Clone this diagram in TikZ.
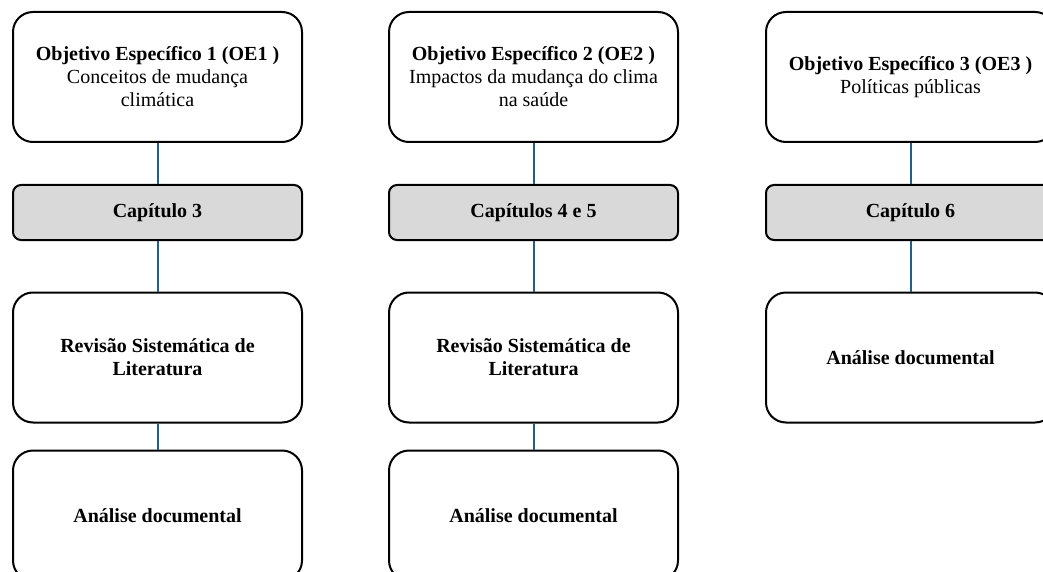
\documentclass[tikz,border=0pt]{standalone}
\usepackage{fontspec}
\setmainfont{Liberation Serif}
\definecolor{linkc}{HTML}{1F5F8B}
\definecolor{chapfill}{HTML}{D9D9D9}
\tikzset{
  x=1pt,y=-1pt,
  bigbox/.style={draw=black,line width=2pt,rounded corners=20pt,fill=white,
    minimum width=289pt,minimum height=130pt,align=center,inner sep=4pt,
    font=\fontsize{20pt}{23pt}\selectfont},
  chapbox/.style={draw=black,line width=2pt,rounded corners=8pt,fill=chapfill,
    minimum width=289pt,minimum height=55pt,align=center,
    font=\fontsize{20pt}{23pt}\selectfont\bfseries},
  link/.style={draw=linkc,line width=2pt}
}
\begin{document}
\begin{tikzpicture}
\useasboundingbox (0,0) rectangle (1043,572);
\clip (0,0) rectangle (1043,572);
% column 1
\node[bigbox] (o1) at (157.5,77) {\textbf{Objetivo Específico 1 (OE1 )}\\Conceitos de mudança\\climática};
\node[chapbox] (c1) at (157.5,212.5) {Capítulo 3};
\node[bigbox] (r1) at (157.5,357.5) {\textbf{Revisão Sistemática de}\\\textbf{Literatura}};
\node[bigbox] (a1) at (157.5,515.5) {\textbf{Análise documental}};
% column 2
\node[bigbox] (o2) at (533.5,77) {\textbf{Objetivo Específico 2 (OE2 )}\\Impactos da mudança do clima\\na saúde};
\node[chapbox] (c2) at (533.5,212.5) {Capítulos 4 e 5};
\node[bigbox] (r2) at (533.5,357.5) {\textbf{Revisão Sistemática de}\\\textbf{Literatura}};
\node[bigbox] (a2) at (533.5,515.5) {\textbf{Análise documental}};
% column 3
\node[bigbox] (o3) at (910.5,77) {\textbf{Objetivo Específico 3 (OE3 )}\\Políticas públicas};
\node[chapbox] (c3) at (910.5,212.5) {Capítulo 6};
\node[bigbox] (a3) at (910.5,357.5) {\textbf{Análise documental}};
% links
\draw[link] (o1.south) -- (c1.north);
\draw[link] (c1.south) -- (r1.north);
\draw[link] (r1.south) -- (a1.north);
\draw[link] (o2.south) -- (c2.north);
\draw[link] (c2.south) -- (r2.north);
\draw[link] (r2.south) -- (a2.north);
\draw[link] (o3.south) -- (c3.north);
\draw[link] (c3.south) -- (a3.north);
\end{tikzpicture}
\end{document}
